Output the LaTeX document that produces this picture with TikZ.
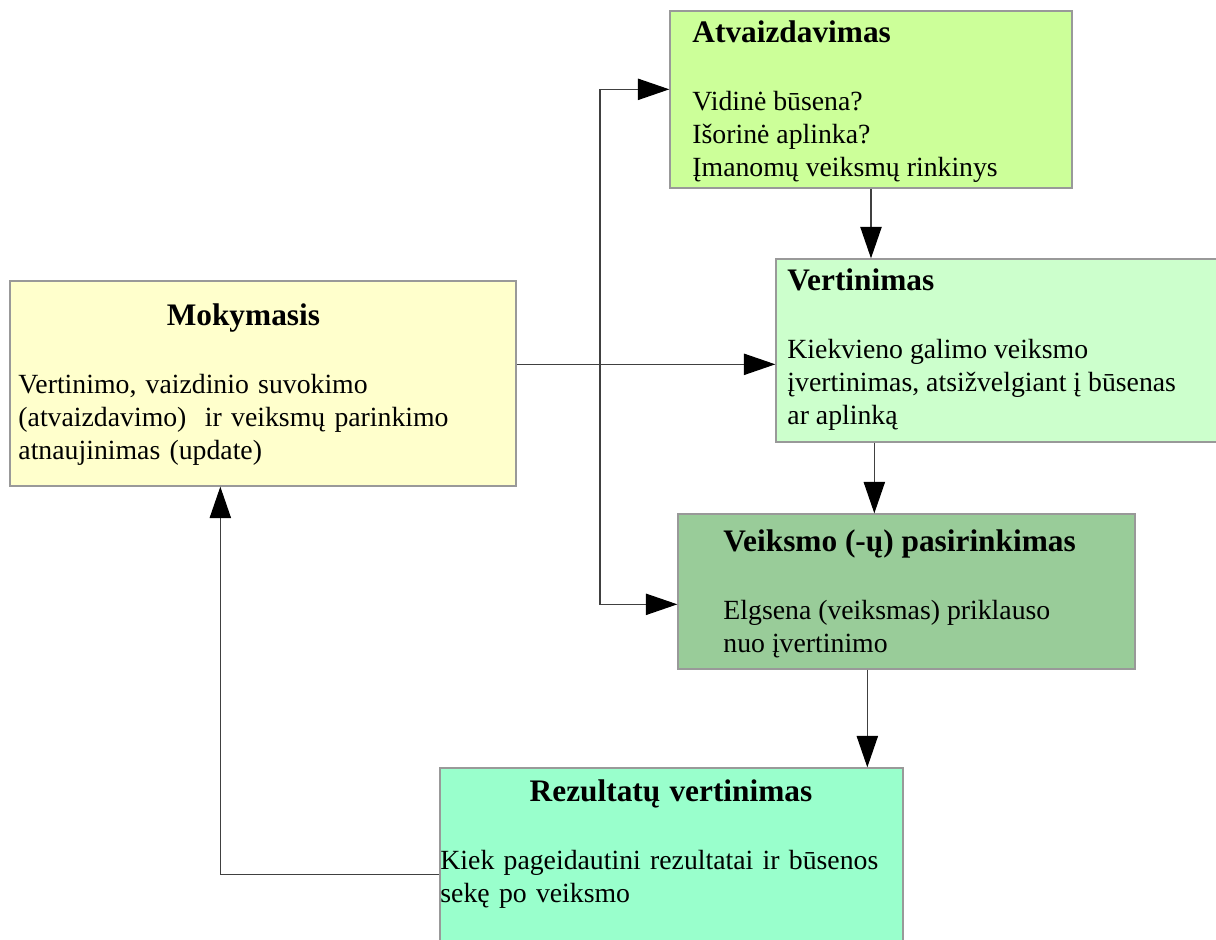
\documentclass[tikz,border=0pt]{standalone}
\usepackage{fontspec}
\setmainfont{Liberation Serif}
\usetikzlibrary{arrows.meta,calc,fit}

\definecolor{atvfill}{HTML}{CCFF99}
\definecolor{vertfill}{HTML}{CCFFCC}
\definecolor{mokfill}{HTML}{FFFFCC}
\definecolor{veikfill}{HTML}{99CC99}
\definecolor{rezfill}{HTML}{99FFCC}
\definecolor{boxline}{HTML}{999999}
\definecolor{linkcol}{HTML}{404040}

\newcommand{\bodyfont}{\fontsize{12.4}{14.7}\selectfont}
\newcommand{\boxtitle}[1]{{\fontsize{14}{16}\bfseries #1}}

\begin{document}
\begin{tikzpicture}[x=0.0157cm,y=-0.0157cm,
	>={Triangle[length=14pt,width=9.5pt,color=black]},
	box/.style={draw=boxline, line width=0.6pt, inner sep=0pt},
	txt/.style={anchor=north west, inner sep=0pt, align=left, font=\bodyfont},
	link/.style={draw=linkcol, line width=0.5pt, ->}]
	
	\useasboundingbox (0,0) rectangle (1216,940);
	
	% boxes
	\node[box, fill=atvfill, fit={(670,11) (1072,188)}] (atv) {};
	\node[box, fill=vertfill, fit={(776,259) (1222,442)}] (vert) {};
	\node[box, fill=mokfill, fit={(10,281) (516,486)}] (mok) {};
	\node[box, fill=veikfill, fit={(678,514) (1135,669)}] (veik) {};
	\node[box, fill=rezfill, fit={(440,768) (903,946)}] (rez) {};
	
	% texts
	\node[txt] (atv-text) at (692,20) {\boxtitle{Atvaizdavimas}\\[16pt]
		Vidinė būsena?\\
		Išorinė aplinka?\\
		Įmanomų veiksmų rinkinys};
	\node[txt] (vert-text) at (787,268) {\boxtitle{Vertinimas}\\[16pt]
		Kiekvieno galimo veiksmo\\
		įvertinimas, atsižvelgiant į būsenas\\
		ar aplinką};
	\node[txt, text width=201pt] (mok-text) at (18,303) {\makebox[\linewidth]{\boxtitle{Mokymasis}}\\[16pt]
		Vertinimo, vaizdinio suvokimo\\
		(atvaizdavimo)\ \ ir veiksmų parinkimo\\
		atnaujinimas (update)};
	\node[txt] (veik-text) at (723,529) {\boxtitle{Veiksmo (-ų) pasirinkimas}\\[16pt]
		Elgsena (veiksmas) priklauso\\
		nuo įvertinimo};
	\node[txt, text width=206pt] (rez-text) at (440,779) {\makebox[\linewidth]{\boxtitle{Rezultatų vertinimas}}\\[16pt]
		Kiek pageidautini rezultatai ir būsenos\\
		sekę po veiksmo};
	
	% connectors
	\coordinate (split) at (600,0);
	\draw[link] (atv.south) -- (atv.south |- vert.north);
	\draw[link] ($(vert.south west)+(99,0)$) coordinate (v1) -- (v1 |- veik.north);
	\draw[link] ($(veik.south west)+(190,0)$) coordinate (k1) -- (k1 |- rez.north);
	\draw[link] ($(mok.north east)+(0,84)$) coordinate (m1) -- (m1 -| vert.west);
	\draw[link, <->]
		($(atv.north west)+(0,79)$) coordinate (a1) -- (a1 -| split)
		-- (split |- {$(veik.north west)+(0,91)$}) -- ($(veik.north west)+(0,91)$);
	\draw[link] ($(rez.north west)+(0,107)$) coordinate (r1) -| ($(mok.south west)+(211,0)$);
	
\end{tikzpicture}
\end{document}
